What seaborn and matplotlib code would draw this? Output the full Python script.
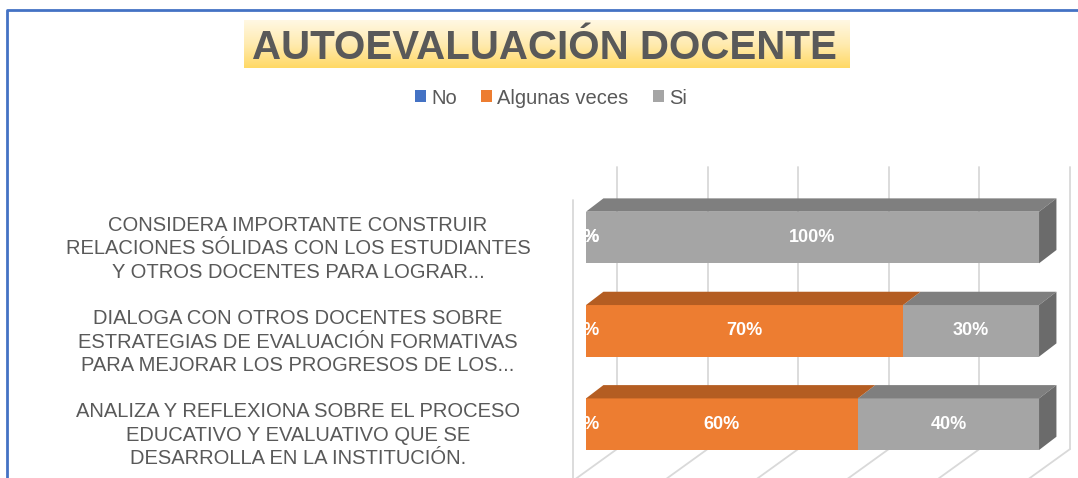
import numpy as np
import pandas as pd
import matplotlib
matplotlib.use("Agg")
import matplotlib.pyplot as plt
import matplotlib.transforms as mtransforms
from matplotlib.patches import Polygon, Patch
from matplotlib.lines import Line2D
from matplotlib.colors import LinearSegmentedColormap
import seaborn as sns

# Data
categories = [
    "CONSIDERA IMPORTANTE CONSTRUIR\nRELACIONES SÓLIDAS CON LOS ESTUDIANTES\nY OTROS DOCENTES PARA LOGRAR...",
    "DIALOGA CON OTROS DOCENTES SOBRE\nESTRATEGIAS DE EVALUACIÓN FORMATIVAS\nPARA MEJORAR LOS PROGRESOS DE LOS...",
    "ANALIZA Y REFLEXIONA SOBRE EL PROCESO\nEDUCATIVO Y EVALUATIVO QUE SE\nDESARROLLA EN LA INSTITUCIÓN.",
]
series_names = ["No", "Algunas veces", "Si"]
no_vals = [0, 0, 0]
algunas_vals = [0, 70, 60]
si_vals = [100, 30, 40]

title = "AUTOEVALUACIÓN DOCENTE"

front_colors = {"No": "#4472C4", "Algunas veces": "#ED7D31", "Si": "#A5A5A5"}
top_colors = {"No": "#2F5597", "Algunas veces": "#B45D22", "Si": "#7F7F7F"}
side_color = "#6B6B6B"
text_grey = "#595959"

df = pd.DataFrame({"cat": categories, "No": no_vals,
                   "Algunas veces": algunas_vals, "Si": si_vals})
df["cum_no"] = df["No"]
df["cum_alg"] = df["cum_no"] + df["Algunas veces"]
df["cum_si"] = df["cum_alg"] + df["Si"]

sns.set_style("white")
plt.rcParams["font.family"] = ["Liberation Sans", "DejaVu Sans"]

W, H = 1078, 478
fig = plt.figure(figsize=(W / 100, H / 100), dpi=100)
fig.patch.set_facecolor("white")

# chart area
ax = fig.add_axes([560 / W, 0, 518 / W, 318 / H])
bar_w = 0.553
for col, cum in [("Si", "cum_si"), ("Algunas veces", "cum_alg"), ("No", "cum_no")]:
    sns.barplot(data=df, x=cum, y="cat", orient="h", color=front_colors[col],
                saturation=1, width=bar_w, errorbar=None, ax=ax)

ax.set_xlim(-5.74, 108.6)
ax.set_ylim(2.576, -0.830)
ax.set_axis_off()

# 3D depth offsets (data units)
dx, dy = 3.84, 0.1425
bdx = 6.84
containers = ax.containers  # [Si, Algunas, No]
for k, (col, cont) in enumerate(zip(["Si", "Algunas veces", "No"], containers)):
    z = 2 + k
    for i, rect in enumerate(cont.patches):
        rect.set_zorder(z)
        rect.set_edgecolor("none")
        seg = df[col].iloc[i]
        if seg == 0:
            rect.set_visible(False)
            continue
        x1 = rect.get_x() + rect.get_width()
        x0 = x1 - seg
        yt = rect.get_y()
        yb = yt + rect.get_height()
        top = Polygon([(x0, yt), (x1, yt), (x1 + dx, yt - dy), (x0 + dx, yt - dy)],
                      closed=True, facecolor=top_colors[col], edgecolor="none", zorder=z + 0.1)
        ax.add_patch(top)
        if col == "Si":
            side = Polygon([(x1, yt), (x1 + dx, yt - dy), (x1 + dx, yb - dy), (x1, yb)],
                           closed=True, facecolor=side_color, edgecolor="none", zorder=z + 0.1)
            ax.add_patch(side)
        rect.set_x(x0)
        rect.set_width(seg)

# back wall gridlines and floor lines
y_back_top, y_back_bot = -0.755, 2.266
for gx in range(0, 101, 20):
    ax.plot([gx + bdx, gx + bdx], [y_back_top, y_back_bot], color="#D9D9D9", lw=1.3, zorder=0.5)
    ax.plot([gx + bdx, gx + bdx - 12], [y_back_bot, y_back_bot + 0.42], color="#D9D9D9",
            lw=1.3, zorder=0.5)
ax.plot([-2.87, -2.87], [-0.40, 2.7], color="#D9D9D9", lw=1.3, zorder=0.5)

# data labels
for i in range(len(categories)):
    starts = [0, no_vals[i], no_vals[i] + algunas_vals[i]]
    for s, v in zip(starts, [no_vals[i], algunas_vals[i], si_vals[i]]):
        ax.text(s + v / 2, i, f"{v}%", ha="center", va="center", color="white",
                fontsize=13, fontweight="bold", zorder=10)

# category labels
trans = mtransforms.blended_transform_factory(fig.transFigure, ax.transData)
for i, c in enumerate(categories):
    ax.text(298 / W, i + 0.12, c, transform=trans, ha="center", va="center",
            multialignment="center", fontsize=14.5, color=text_grey, linespacing=1.3,
            clip_on=False)

# title with yellow gradient highlight
tax = fig.add_axes([244 / W, 1 - 68 / H, 606 / W, 48 / H])
grad = np.linspace(0, 1, 100).reshape(-1, 1)
cmap = LinearSegmentedColormap.from_list("hl", ["#FFF8E3", "#FFEBB0", "#FFD966"])
tax.imshow(grad, aspect="auto", cmap=cmap)
tax.set_axis_off()
fig.text(544.5 / W, 1 - 59 / H, title, ha="center", va="baseline", fontsize=29,
         fontweight="bold", color=text_grey)

# legend
handles = [Patch(facecolor=front_colors[n], edgecolor="none") for n in series_names]
fig.legend(handles, series_names, loc="center", bbox_to_anchor=(551 / W, 1 - 98 / H),
           ncol=3, frameon=False, fontsize=14.5, handlelength=0.55, handleheight=0.55,
           handletextpad=0.25, columnspacing=1.2, labelcolor=text_grey)

# chart border
fig.add_artist(Line2D([7 / W, 7 / W, 1], [0, 1 - 10 / H, 1 - 10 / H],
                      transform=fig.transFigure, color="#4472C4", lw=2))

fig.savefig("out.png", dpi=100)
